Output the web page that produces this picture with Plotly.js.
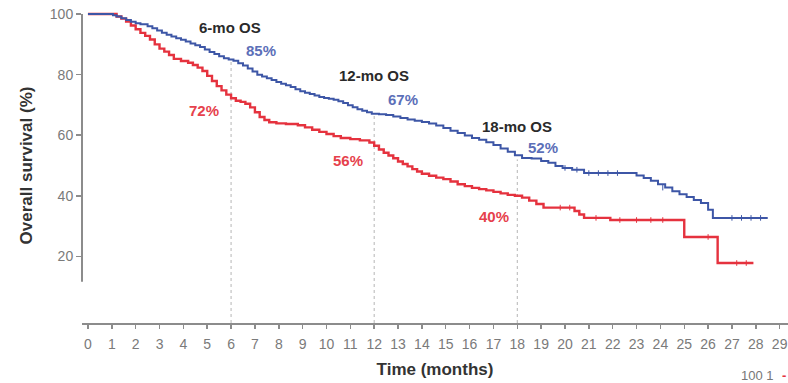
<!DOCTYPE html>
<html>
<head>
<meta charset="utf-8">
<script src="https://cdn.plot.ly/plotly-3.0.1.min.js"></script>
<style>html,body{margin:0;padding:0;background:#fff;}#chart{width:788px;height:383px;}</style>
</head>
<body>
<div id="chart"></div>
<script>
// Blue arm (Kaplan-Meier, step points)
const blueTime = [0,1.05,1.2,1.4,1.6,1.8,2.0,2.2,2.5,2.7,2.9,3.1,3.3,3.5,3.7,3.9,4.1,4.3,4.5,4.7,4.9,5.1,5.3,5.5,5.7,5.9,6.1,6.3,6.5,6.7,6.9,7.1,7.3,7.5,7.7,7.9,8.1,8.3,8.5,8.7,8.9,9.1,9.3,9.5,9.7,9.9,10.1,10.3,10.5,10.7,10.9,11.1,11.3,11.5,11.7,11.9,12.2,12.5,12.8,13.1,13.4,13.7,14.0,14.3,14.6,14.9,15.2,15.5,15.8,16.1,16.4,16.7,17.0,17.3,17.6,17.9,18.2,18.6,19.0,19.3,19.6,19.9,20.3,20.8,22.6,23.0,23.3,23.6,23.9,24.2,24.5,24.8,25.1,25.4,25.7,26.0,26.2,28.5];
const blueSurv = [100,99.6,99.2,98.6,98.0,97.5,97.0,96.6,96.0,95.3,94.6,93.8,93.2,92.6,92.0,91.5,90.9,90.3,89.7,89.1,88.3,87.5,86.8,86.1,85.4,85.0,84.6,83.8,83.0,82.0,81.0,80.0,79.4,78.8,78.2,77.6,77.0,76.5,75.9,75.2,74.5,74.0,73.6,73.1,72.6,72.3,72.0,71.7,71.2,70.6,69.9,69.2,68.6,68.1,67.6,67.1,66.9,66.7,66.2,65.7,65.2,64.8,64.4,63.9,63.2,62.4,61.5,60.7,59.9,59.1,58.5,57.7,56.8,55.6,54.5,53.4,52.5,52.3,51.5,50.9,49.8,49.2,48.6,47.5,47.5,46.7,45.9,45.0,43.8,42.7,41.5,40.5,39.6,38.6,37.6,35.4,32.7,32.7];
const blueCensT = [20.0,20.5,21.0,21.4,21.8,22.2,24.1,27.0,27.4,27.8,28.2];
const blueCensS = [49.2,48.6,47.5,47.5,47.5,47.5,42.7,32.7,32.7,32.7,32.7];

// Red arm
const redTime = [0,1.0,1.2,1.4,1.6,1.8,2.0,2.2,2.4,2.6,2.8,3.0,3.2,3.4,3.6,3.9,4.2,4.4,4.6,4.8,5.0,5.2,5.4,5.6,5.8,6.0,6.2,6.4,6.6,6.8,7.0,7.2,7.4,7.6,7.9,8.3,8.8,9.1,9.4,9.7,10.0,10.3,10.6,11.0,11.4,11.8,12.0,12.2,12.4,12.6,12.8,13.0,13.2,13.4,13.6,13.8,14.0,14.3,14.6,14.9,15.2,15.5,15.8,16.1,16.4,16.7,17.0,17.3,17.6,17.9,18.2,18.5,18.8,19.1,20.4,20.6,20.8,21.9,25.0,26.4,27.9];
const redSurv = [100,100,99.2,98.5,97.5,96.2,95.0,93.8,92.8,91.6,90.0,88.6,87.6,86.5,85.2,84.5,83.9,83.2,82.3,81.2,79.6,77.9,76.2,74.8,73.4,72.2,71.4,71.0,70.4,69.2,67.6,66.0,65.0,64.3,63.9,63.7,63.3,62.6,61.8,61.1,60.4,59.7,59.1,58.7,58.3,57.6,56.5,55.3,54.2,53.3,52.4,51.3,50.5,49.7,48.8,48.0,47.3,46.6,46.0,45.5,44.7,43.8,43.2,42.6,42.2,41.8,41.3,40.8,40.3,40.0,39.4,38.4,37.3,36.1,35.0,33.8,32.7,32.0,26.4,17.8,17.8];
const redCensT = [19.8,20.2,21.3,22.3,23.0,23.6,24.1,26.0,27.2,27.6];
const redCensS = [36.1,36.1,32.7,32.0,32.0,32.0,32.0,26.4,17.8,17.8];

// Landmarks
const landmarkMonths = [6,12,18];
const landmarkLabels = ['6-mo OS','12-mo OS','18-mo OS'];
const blueLandmark = [85,67,52];
const redLandmark = [72,56,40];

const xTicks = [0,1,2,3,4,5,6,7,8,9,10,11,12,13,14,15,16,17,18,19,20,21,22,23,24,25,26,27,28,29];
const yTicks = [20,40,60,80,100];
const cornerText = '100 1';

const BLUE = '#3d56a6';
const RED = '#e5323e';
const FONT = 'Liberation Sans, Arial, sans-serif';

const traces = [
  {x: redTime, y: redSurv, type:'scatter', mode:'lines', line:{shape:'hv', color:RED, width:2.4}, hoverinfo:'skip'},
  {x: blueTime, y: blueSurv, type:'scatter', mode:'lines', line:{shape:'hv', color:BLUE, width:2}, hoverinfo:'skip'},
  {x: redCensT, y: redCensS, type:'scatter', mode:'markers', marker:{symbol:'line-ns', size:4, line:{color:RED, width:1}}, hoverinfo:'skip'},
  {x: blueCensT, y: blueCensS, type:'scatter', mode:'markers', marker:{symbol:'line-ns', size:4, line:{color:BLUE, width:1}}, hoverinfo:'skip'}
];

const shapes = [];
landmarkMonths.forEach((m,i)=>{
  shapes.push({type:'line', xref:'x', yref:'y', x0:m, x1:m, y0:-2, y1:blueLandmark[i], line:{color:'#b5b5b5', width:1, dash:'dot'}, layer:'below'});
});
// broken y axis line
shapes.push({type:'line', xref:'paper', yref:'y', x0:0, x1:0, y0:11.6, y1:100, line:{color:'#8c8c8c', width:2}});

// label placement (layout only)
const titlePos = [[5.96,95.7],[12.0,79.6],[18.0,63.0]];
const bluePos = [[7.27,88.1],[13.19,71.7],[19.09,56.0]];
const redPos = [[4.87,68.3],[10.92,51.5],[17.01,33.3]];

const annotations = [];
landmarkMonths.forEach((m,i)=>{
  annotations.push({x:titlePos[i][0], y:titlePos[i][1], xref:'x', yref:'y', xanchor:'center', text:'<b>'+landmarkLabels[i]+'</b>', showarrow:false, font:{size:15, color:'#2a2a2a', family:FONT}});
  annotations.push({x:bluePos[i][0], y:bluePos[i][1], xref:'x', yref:'y', xanchor:'center', text:'<b>'+blueLandmark[i]+'%</b>', showarrow:false, font:{size:15, color:'#5c6fb8', family:FONT}});
  annotations.push({x:redPos[i][0], y:redPos[i][1], xref:'x', yref:'y', xanchor:'center', text:'<b>'+redLandmark[i]+'%</b>', showarrow:false, font:{size:15, color:'#e6414c', family:FONT}});
});
annotations.push({xref:'paper', yref:'paper', x:0.957, y:-0.167, xanchor:'center', yanchor:'middle', text:cornerText, showarrow:false, font:{size:13, color:'#777', family:FONT}});
annotations.push({xref:'paper', yref:'paper', x:0.994, y:-0.167, xanchor:'center', yanchor:'middle', text:'<b>-</b>', showarrow:false, font:{size:13, color:RED, family:FONT}});

const layout = {
  width:788, height:383,
  margin:{l:82, r:0, t:8, b:60},
  paper_bgcolor:'#fff', plot_bgcolor:'#fff',
  showlegend:false,
  font:{family:FONT, color:'#777'},
  xaxis:{
    range:[-0.25,29.35], tickvals:xTicks, ticktext:xTicks.map(String),
    showgrid:false, zeroline:false, showline:true, linecolor:'#8c8c8c', linewidth:2,
    ticks:'outside', ticklen:4, tickcolor:'#8c8c8c', tickwidth:1.5,
    tickfont:{size:14, color:'#7a7a7a'}, ticklabelstandoff:3,
    title:{text:'<b>Time (months)</b>', font:{size:17, color:'#333'}, standoff:12}
  },
  yaxis:{
    range:[-2,102], tickvals:yTicks, ticktext:yTicks.map(String),
    showgrid:false, zeroline:false, showline:false,
    ticks:'outside', ticklen:5, tickcolor:'#8c8c8c', tickwidth:1.5,
    tickfont:{size:14, color:'#7a7a7a'},
    title:{text:'<b>Overall survival (%)</b>', font:{size:17, color:'#333'}, standoff:12}
  },
  shapes:shapes,
  annotations:annotations
};

Plotly.newPlot('chart', traces, layout, {displayModeBar:false, staticPlot:true});
</script>
</body>
</html>
